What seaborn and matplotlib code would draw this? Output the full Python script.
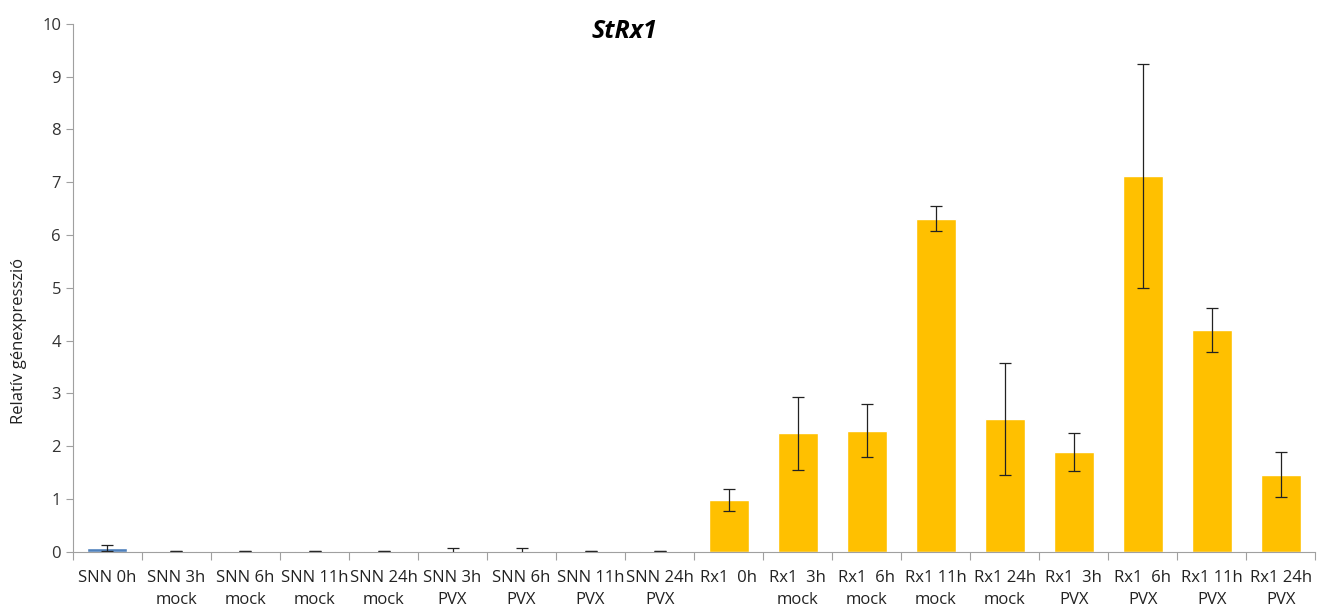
import matplotlib
matplotlib.use("Agg")
import matplotlib.pyplot as plt
import seaborn as sns
import pandas as pd
import numpy as np
from matplotlib.ticker import FixedLocator

categories = [
    "SNN 0h", "SNN 3h\nmock", "SNN 6h\nmock", "SNN 11h\nmock", "SNN 24h\nmock",
    "SNN 3h\nPVX", "SNN 6h\nPVX", "SNN 11h\nPVX", "SNN 24h\nPVX",
    "Rx1  0h", "Rx1  3h\nmock", "Rx1  6h\nmock", "Rx1 11h\nmock", "Rx1 24h\nmock",
    "Rx1  3h\nPVX", "Rx1  6h\nPVX", "Rx1 11h\nPVX", "Rx1 24h\nPVX",
]
groups = ["SNN"] * 9 + ["Rx1"] * 9
values = [0.07, 0.01, 0.01, 0.01, 0.01, 0.01, 0.01, 0.01, 0.01,
          0.98, 2.24, 2.29, 6.31, 2.52, 1.89, 7.12, 4.20, 1.46]
errors = [0.05, 0.0, 0.005, 0.005, 0.0, 0.06, 0.06, 0.0, 0.0,
          0.20, 0.69, 0.50, 0.23, 1.06, 0.36, 2.12, 0.41, 0.42]

palette = {"SNN": "#4F81BD", "Rx1": "#FFC000"}

sns.set_theme(style="white")
plt.rcParams["font.family"] = ["Open Sans", "DejaVu Sans"]

df = pd.DataFrame({"cat": categories, "val": values, "grp": groups})

fig = plt.figure(figsize=(13.26, 6.09), dpi=100)
ax = fig.add_axes([0.055, 0.094, 0.937, 0.867])

sns.barplot(data=df, x="cat", y="val", hue="grp", palette=palette,
            dodge=False, width=0.58, legend=False, ax=ax, saturation=1)
ax.errorbar(np.arange(len(values)), values, yerr=errors, fmt="none",
            ecolor="#222222", elinewidth=0.9, capsize=4, capthick=0.9)

ax.set_xlim(-0.5, len(values) - 0.5)
ax.set_ylim(0, 10)
ax.set_yticks(range(0, 11))
ax.tick_params(axis="y", labelsize=12, colors="#333333", length=5,
               direction="out", left=True, width=0.8, color="#A0A0A0")
ax.tick_params(axis="x", which="major", labelsize=12, length=0,
               labelcolor="#222222", pad=13)
ax.xaxis.set_minor_locator(FixedLocator(np.arange(-0.5, len(values), 1.0)))
ax.tick_params(axis="x", which="minor", bottom=True, length=6, width=0.8,
               color="#A0A0A0", direction="out")
ax.set_xlabel("")
ax.set_ylabel("Relatív génexpresszió", fontsize=12, color="#222222")
ax.yaxis.set_label_coords(-0.037, 0.40)

for side in ["top", "right"]:
    ax.spines[side].set_visible(False)
for side in ["left", "bottom"]:
    ax.spines[side].set_color("#A0A0A0")
    ax.spines[side].set_linewidth(0.8)

ax.set_title("StRx1", fontsize=18, fontweight="bold", fontstyle="italic",
             color="black", x=0.444, y=0.958)
for lbl in ax.get_xticklabels():
    lbl.set_linespacing(1.5)

fig.savefig("out.png", dpi=100)
